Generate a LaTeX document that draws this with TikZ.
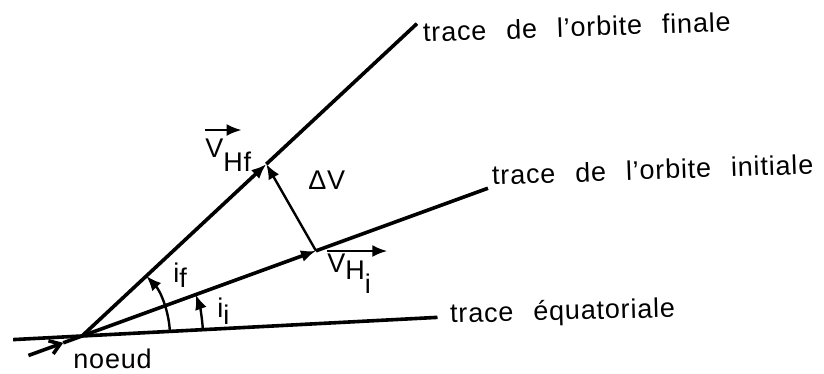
\documentclass[tikz,border=0pt]{standalone}
\usepackage{fontspec}
\setmainfont{Liberation Sans}[LetterSpace=3,WordSpace=2.4]
\usetikzlibrary{arrows.meta}
\begin{document}
\begin{tikzpicture}[
  x=0.5pt, y=0.5pt,
  trace/.style={line width=1.8pt},
  thin trace/.style={line width=1.2pt},
  vec/.style={-{Latex[length=7.5pt,width=6pt]}},
  every node/.style={inner sep=0pt, anchor=base west, font=\fontsize{13.5}{16}\selectfont}
]
\useasboundingbox (0,0) rectangle (824,374);
\coordinate (noeud) at (82,38);
\coordinate (eqW) at ([shift={(183:69)}]noeud);
\coordinate (eqE) at ([shift={(3:356)}]noeud);
\coordinate (iniW) at ([shift={(200:57)}]noeud);
\coordinate (iniA) at ([shift={(200:20)}]noeud);
\coordinate (ini) at ([shift={(20:249)}]noeud);
\coordinate (iniE) at ([shift={(20:432)}]noeud);
\coordinate (fin) at ([shift={(43:252)}]noeud);
\coordinate (finE) at ([shift={(43:458)}]noeud);

\draw[trace] (eqW) -- (eqE);
\draw[trace, -{Straight Barb[length=5pt,width=7pt]}] (iniW) -- (iniA);
\draw[trace] (iniA) -- (noeud);
\draw[trace, vec] (noeud) -- (ini);
\draw[trace] (ini) -- (iniE);
\draw[trace, vec] (noeud) -- (fin);
\draw[trace] (fin) -- (finE);
\draw[thin trace, vec] (ini) -- (fin);
\draw[thin trace, vec] ([shift={(3:121)}]noeud) arc[start angle=3, end angle=20, radius=121];
\draw[thin trace, vec] ([shift={(3:88)}]noeud) arc[start angle=3, end angle=43, radius=88];

\node[rotate=2] (tfin) at (423,332) {trace de l'orbite finale};
\node[rotate=2] (tini) at (492,189) {trace de l'orbite initiale};
\node[rotate=1.5] (teq) at (450,51) {trace équatoriale};
\node (tnoeud) at (73,5) {noeud};
\node (dv) at (308,184) {ΔV};
\node (vhf) at (205,216) {V\raisebox{-7pt}{Hf}};
\node (vhi) at (327,101) {V\raisebox{-3.5pt}{H\raisebox{-7pt}{i}}};
\node (iff) at (173,91) {i\raisebox{-2.5pt}{f}};
\node (iii) at (217,56) {i\raisebox{-3.5pt}{i}};
\draw[thin trace, vec] ([yshift=4.5pt]vhf.north west) -- ([xshift=-5pt,yshift=4.5pt]vhf.north east);
\draw[thin trace, vec] ([yshift=1.5pt]vhi.north west) -- ([xshift=8pt,yshift=1.5pt]vhi.north east);
\end{tikzpicture}
\end{document}
